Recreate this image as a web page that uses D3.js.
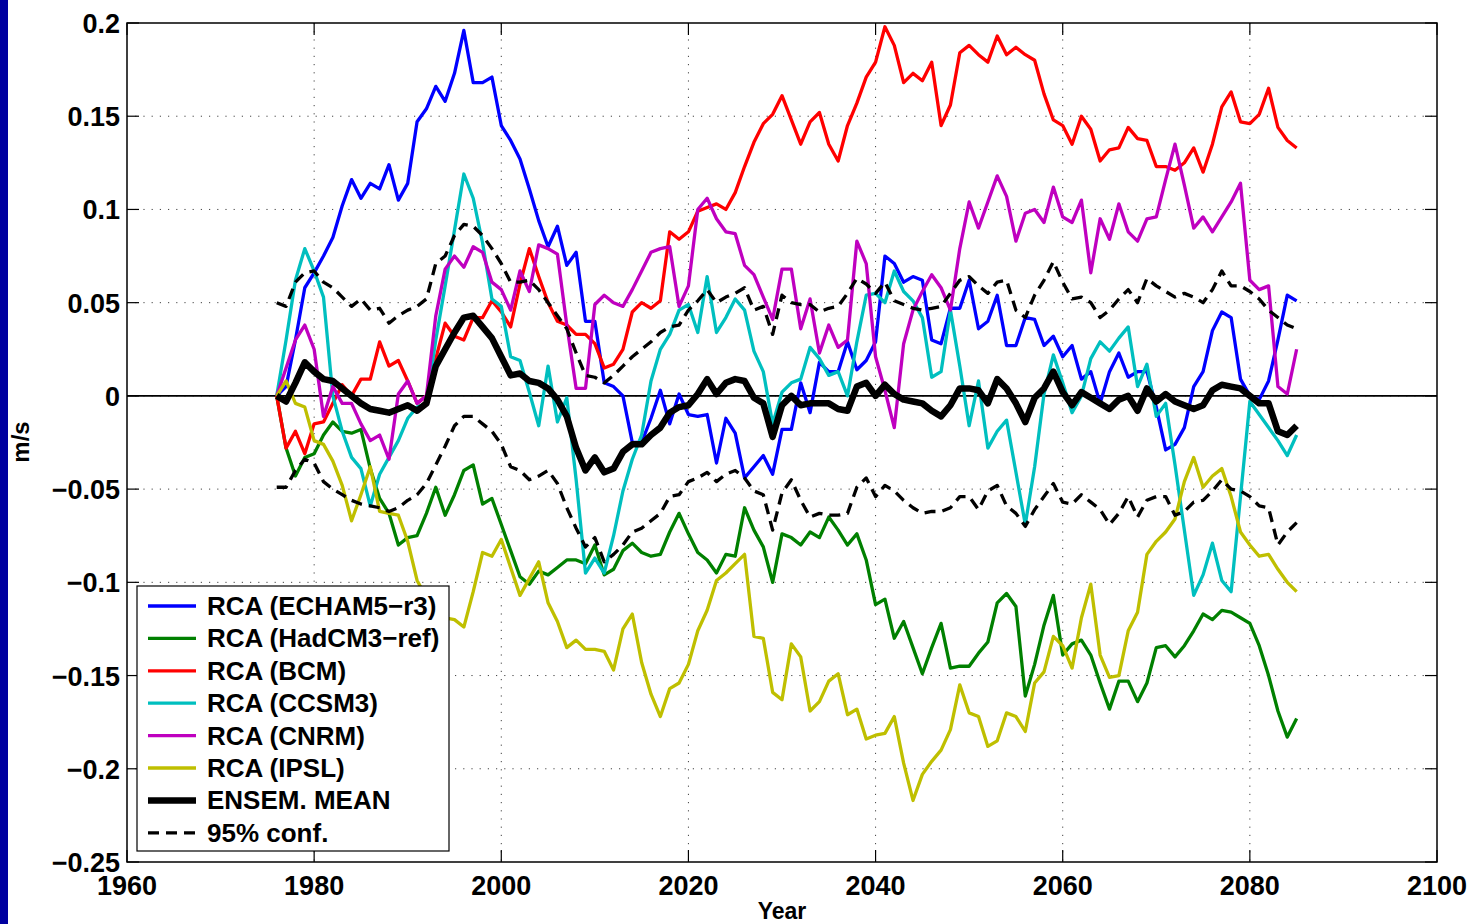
<!DOCTYPE html>
<html>
<head>
<meta charset="utf-8">
<script src="https://cdn.jsdelivr.net/npm/d3@7"></script>
<style>
  html, body { margin: 0; padding: 0; background: #ffffff; }
  svg { display: block; }
  text { font-family: "Liberation Sans", Arial, Helvetica, sans-serif; font-weight: bold; fill: #000; }
</style>
</head>
<body>
<svg id="chart" width="1474" height="924"></svg>
<script>
// Annual anomalies of wind speed (m/s), 1976-2085
const years = d3.range(1976, 2086);

const echam5 = [
  0, 0.005, 0.03, 0.058, 0.066, 0.075, 0.085, 0.102, 0.116, 0.106,
  0.114, 0.111, 0.124, 0.105, 0.114, 0.147, 0.154, 0.166, 0.158, 0.173,
  0.196, 0.168, 0.168, 0.171, 0.145, 0.137, 0.127, 0.111, 0.094, 0.080,
  0.091, 0.070, 0.077, 0.040, 0.040, 0.007, 0.005, 0.000, -0.025, -0.025,
  -0.012, 0.003, -0.015, 0.001, -0.010, -0.011, -0.010, -0.036, -0.012, -0.020,
  -0.044, -0.038, -0.032, -0.042, -0.018, -0.018, 0.007, -0.009, 0.018, 0.013,
  0.013, 0.029, 0.014, 0.019, 0.029, 0.075, 0.071, 0.061, 0.064, 0.062,
  0.030, 0.028, 0.047, 0.047, 0.062, 0.036, 0.040, 0.054, 0.027, 0.027,
  0.042, 0.041, 0.027, 0.032, 0.021, 0.027, 0.009, 0.013, -0.004, 0.013,
  0.023, 0.010, 0.013, 0.013, -0.006, -0.029, -0.026, -0.017, 0.005, 0.013,
  0.035, 0.045, 0.042, 0.009, 0.000, -0.002, 0.008, 0.030, 0.054, 0.051
];

const hadcm3 = [
  0, -0.028, -0.043, -0.033, -0.031, -0.021, -0.014, -0.019, -0.020, -0.018,
  -0.039, -0.055, -0.063, -0.080, -0.076, -0.075, -0.063, -0.049, -0.064, -0.053,
  -0.040, -0.037, -0.058, -0.055, -0.069, -0.083, -0.097, -0.101, -0.094, -0.096,
  -0.092, -0.088, -0.088, -0.090, -0.080, -0.096, -0.093, -0.083, -0.079, -0.084,
  -0.086, -0.085, -0.073, -0.063, -0.074, -0.084, -0.088, -0.095, -0.085, -0.086,
  -0.060, -0.072, -0.081, -0.100, -0.074, -0.076, -0.080, -0.073, -0.076, -0.065,
  -0.072, -0.080, -0.074, -0.088, -0.112, -0.109, -0.130, -0.121, -0.135, -0.149,
  -0.135, -0.122, -0.146, -0.145, -0.145, -0.138, -0.132, -0.111, -0.106, -0.113,
  -0.161, -0.144, -0.123, -0.107, -0.139, -0.133, -0.131, -0.139, -0.154, -0.168,
  -0.153, -0.153, -0.164, -0.154, -0.135, -0.134, -0.140, -0.134, -0.126, -0.117,
  -0.120, -0.115, -0.116, -0.119, -0.122, -0.134, -0.150, -0.169, -0.183, -0.173
];

const bcm = [
  0, -0.028, -0.019, -0.031, -0.015, -0.014, -0.004, 0.006, 0.000, 0.009,
  0.009, 0.029, 0.016, 0.019, 0.008, -0.004, 0.000, 0.020, 0.039, 0.032,
  0.030, 0.042, 0.042, 0.051, 0.045, 0.037, 0.060, 0.079, 0.064, 0.050,
  0.040, 0.038, 0.033, 0.033, 0.028, 0.015, 0.017, 0.025, 0.045, 0.050,
  0.047, 0.051, 0.088, 0.084, 0.088, 0.099, 0.101, 0.103, 0.100, 0.109,
  0.123, 0.136, 0.146, 0.151, 0.161, 0.148, 0.135, 0.147, 0.152, 0.135,
  0.126, 0.145, 0.157, 0.171, 0.179, 0.198, 0.188, 0.168, 0.173, 0.169,
  0.179, 0.145, 0.156, 0.184, 0.188, 0.183, 0.179, 0.193, 0.183, 0.187,
  0.183, 0.180, 0.162, 0.148, 0.145, 0.135, 0.150, 0.143, 0.126, 0.132,
  0.133, 0.144, 0.138, 0.137, 0.123, 0.123, 0.121, 0.125, 0.133, 0.120,
  0.135, 0.155, 0.163, 0.147, 0.146, 0.151, 0.165, 0.144, 0.137, 0.133
];

const ccsm3 = [
  0, 0.030, 0.062, 0.079, 0.067, 0.053, 0.000, -0.019, -0.033, -0.039,
  -0.059, -0.042, -0.033, -0.024, -0.012, -0.006, -0.004, 0.030, 0.059, 0.089,
  0.119, 0.106, 0.082, 0.052, 0.048, 0.021, 0.019, 0.002, -0.016, 0.016,
  -0.014, -0.001, -0.045, -0.095, -0.087, -0.095, -0.075, -0.051, -0.034, -0.021,
  0.008, 0.025, 0.033, 0.046, 0.049, 0.034, 0.064, 0.034, 0.042, 0.052,
  0.046, 0.024, 0.013, -0.015, 0.002, 0.007, 0.009, 0.026, 0.020, 0.011,
  0.013, 0.000, 0.029, 0.054, 0.055, 0.050, 0.067, 0.056, 0.051, 0.042,
  0.010, 0.013, 0.046, 0.016, -0.016, 0.008, -0.028, -0.019, -0.013, -0.041,
  -0.069, -0.038, 0.001, 0.022, 0.007, -0.009, 0.000, 0.020, 0.029, 0.024,
  0.031, 0.037, 0.005, 0.017, -0.011, -0.004, -0.037, -0.072, -0.107, -0.096,
  -0.079, -0.099, -0.105, -0.054, -0.003, -0.010, -0.017, -0.024, -0.032, -0.021
];

const cnrm = [
  0, 0.015, 0.030, 0.038, 0.025, -0.011, 0.005, -0.004, -0.004, -0.015,
  -0.024, -0.021, -0.034, 0.001, 0.008, -0.004, 0.000, 0.043, 0.068, 0.075,
  0.069, 0.080, 0.077, 0.061, 0.057, 0.046, 0.067, 0.056, 0.081, 0.079,
  0.076, 0.038, 0.004, 0.004, 0.049, 0.054, 0.050, 0.048, 0.057, 0.067,
  0.077, 0.079, 0.080, 0.048, 0.059, 0.100, 0.106, 0.095, 0.088, 0.087,
  0.070, 0.065, 0.053, 0.041, 0.068, 0.068, 0.036, 0.052, 0.023, 0.038,
  0.026, 0.030, 0.083, 0.071, 0.021, 0.003, -0.017, 0.028, 0.046, 0.056,
  0.065, 0.058, 0.046, 0.079, 0.104, 0.090, 0.104, 0.118, 0.107, 0.083,
  0.098, 0.100, 0.093, 0.112, 0.096, 0.093, 0.105, 0.066, 0.095, 0.084,
  0.103, 0.088, 0.083, 0.095, 0.096, 0.116, 0.135, 0.113, 0.090, 0.096,
  0.088, 0.096, 0.104, 0.114, 0.062, 0.057, 0.059, 0.005, 0.001, 0.025
];

const ipsl = [
  0, 0.008, -0.004, -0.006, -0.024, -0.026, -0.035, -0.048, -0.067, -0.053,
  -0.038, -0.062, -0.063, -0.064, -0.078, -0.099, -0.108, -0.115, -0.119, -0.120,
  -0.124, -0.105, -0.084, -0.086, -0.077, -0.092, -0.107, -0.098, -0.089, -0.111,
  -0.121, -0.135, -0.131, -0.136, -0.136, -0.137, -0.147, -0.125, -0.117, -0.143,
  -0.160, -0.172, -0.157, -0.154, -0.144, -0.126, -0.115, -0.099, -0.095, -0.090,
  -0.085, -0.129, -0.130, -0.159, -0.163, -0.133, -0.140, -0.169, -0.164, -0.153,
  -0.149, -0.171, -0.168, -0.184, -0.182, -0.181, -0.172, -0.197, -0.217, -0.203,
  -0.196, -0.190, -0.179, -0.155, -0.170, -0.172, -0.188, -0.185, -0.170, -0.172,
  -0.180, -0.154, -0.148, -0.129, -0.134, -0.146, -0.119, -0.101, -0.139, -0.151,
  -0.150, -0.126, -0.116, -0.085, -0.078, -0.073, -0.066, -0.046, -0.033, -0.049,
  -0.043, -0.039, -0.054, -0.073, -0.080, -0.086, -0.085, -0.093, -0.100, -0.105
];

const ensembleMean = [
  0, -0.003, 0.007, 0.018, 0.013, 0.009, 0.008, 0.004, 0.000, -0.004,
  -0.007, -0.008, -0.009, -0.007, -0.005, -0.008, -0.004, 0.016, 0.025, 0.034,
  0.042, 0.043, 0.037, 0.031, 0.021, 0.011, 0.012, 0.008, 0.007, 0.004,
  -0.002, -0.011, -0.028, -0.040, -0.033, -0.041, -0.039, -0.030, -0.026, -0.026,
  -0.021, -0.017, -0.009, -0.006, -0.005, 0.001, 0.009, 0.001, 0.007, 0.009,
  0.008, -0.001, -0.004, -0.022, -0.005, 0.000, -0.005, -0.004, -0.004, -0.004,
  -0.007, -0.008, 0.005, 0.007, 0.000, 0.006, 0.001, -0.002, -0.003, -0.004,
  -0.008, -0.011, -0.005, 0.004, 0.004, 0.003, -0.004, 0.009, 0.004, -0.004,
  -0.014, -0.001, 0.004, 0.013, 0.002, -0.005, 0.002, -0.001, -0.004, -0.007,
  -0.002, 0.000, -0.008, 0.004, -0.003, 0.001, -0.003, -0.005, -0.007, -0.005,
  0.003, 0.006, 0.005, 0.004, 0.000, -0.004, -0.004, -0.019, -0.021, -0.016
];

const confUpper = [
  0.050, 0.048, 0.061, 0.066, 0.067, 0.061, 0.058, 0.053, 0.048, 0.052,
  0.046, 0.047, 0.039, 0.043, 0.046, 0.048, 0.052, 0.071, 0.075, 0.086,
  0.092, 0.091, 0.086, 0.079, 0.071, 0.061, 0.061, 0.062, 0.057, 0.050,
  0.043, 0.036, 0.023, 0.011, 0.010, 0.007, 0.011, 0.016, 0.021, 0.025,
  0.029, 0.034, 0.037, 0.038, 0.046, 0.051, 0.057, 0.050, 0.053, 0.055,
  0.058, 0.046, 0.048, 0.033, 0.054, 0.050, 0.049, 0.049, 0.045, 0.047,
  0.048, 0.055, 0.063, 0.060, 0.055, 0.061, 0.051, 0.049, 0.047, 0.046,
  0.047, 0.048, 0.055, 0.062, 0.064, 0.059, 0.055, 0.061, 0.062, 0.046,
  0.042, 0.054, 0.062, 0.072, 0.061, 0.052, 0.053, 0.050, 0.042, 0.046,
  0.052, 0.057, 0.050, 0.063, 0.059, 0.056, 0.053, 0.055, 0.053, 0.050,
  0.057, 0.067, 0.059, 0.059, 0.056, 0.052, 0.046, 0.042, 0.038, 0.036
];

const confLower = [
  -0.049, -0.049, -0.040, -0.034, -0.036, -0.046, -0.050, -0.053, -0.056, -0.058,
  -0.059, -0.060, -0.062, -0.060, -0.056, -0.053, -0.047, -0.037, -0.027, -0.016,
  -0.011, -0.011, -0.015, -0.019, -0.026, -0.038, -0.040, -0.045, -0.043, -0.040,
  -0.047, -0.060, -0.071, -0.081, -0.076, -0.089, -0.085, -0.080, -0.073, -0.071,
  -0.067, -0.063, -0.054, -0.053, -0.046, -0.044, -0.041, -0.046, -0.042, -0.040,
  -0.044, -0.051, -0.053, -0.072, -0.052, -0.045, -0.056, -0.065, -0.063, -0.064,
  -0.064, -0.063, -0.049, -0.044, -0.054, -0.048, -0.051, -0.056, -0.060, -0.063,
  -0.062, -0.062, -0.060, -0.054, -0.054, -0.061, -0.051, -0.048, -0.059, -0.063,
  -0.070, -0.061, -0.054, -0.047, -0.057, -0.058, -0.053, -0.057, -0.061, -0.069,
  -0.063, -0.054, -0.065, -0.056, -0.054, -0.054, -0.064, -0.062, -0.057, -0.056,
  -0.051, -0.045, -0.050, -0.051, -0.054, -0.059, -0.060, -0.080, -0.073, -0.068
];

const xTicks = [1960, 1980, 2000, 2020, 2040, 2060, 2080, 2100];
const yTicks = [-0.25, -0.2, -0.15, -0.1, -0.05, 0, 0.05, 0.1, 0.15, 0.2];
const yTickLabels = ["\u22120.25", "\u22120.2", "\u22120.15", "\u22120.1", "\u22120.05", "0", "0.05", "0.1", "0.15", "0.2"];

const legendLabels = [
  "RCA (ECHAM5\u2212r3)", "RCA (HadCM3\u2212ref)", "RCA (BCM)", "RCA (CCSM3)",
  "RCA (CNRM)", "RCA (IPSL)", "ENSEM. MEAN", "95% conf."
];

// Series table built from the arrays above
const series = [
  { name: legendLabels[0], values: echam5, color: "#0000ff", width: 3.3, dash: null },
  { name: legendLabels[1], values: hadcm3, color: "#008000", width: 3.3, dash: null },
  { name: legendLabels[2], values: bcm,    color: "#ff0000", width: 3.3, dash: null },
  { name: legendLabels[3], values: ccsm3,  color: "#00bfbf", width: 3.3, dash: null },
  { name: legendLabels[4], values: cnrm,   color: "#bf00bf", width: 3.3, dash: null },
  { name: legendLabels[5], values: ipsl,   color: "#bfbf00", width: 3.3, dash: null },
  { name: legendLabels[6], values: ensembleMean, color: "#000000", width: 6.5, dash: null },
  { name: legendLabels[7], values: confUpper, color: "#000000", width: 3.3, dash: "11,7" },
  { name: null,            values: confLower, color: "#000000", width: 3.3, dash: "11,7" }
];

const svg = d3.select("#chart");
const W = 1474, H = 924;
const plot = { left: 127, right: 1437, top: 23, bottom: 862 };

svg.append("rect").attr("width", W).attr("height", H).attr("fill", "#ffffff");
// dark window edge on the left
svg.append("rect").attr("x", 0).attr("y", 0).attr("width", 8).attr("height", H).attr("fill", "#0000a0");

const x = d3.scaleLinear().domain([1960, 2100]).range([plot.left, plot.right]);
const y = d3.scaleLinear().domain([-0.25, 0.2]).range([plot.bottom, plot.top]);

// dotted grid
const grid = svg.append("g");
grid.selectAll("line.gx").data(xTicks.slice(1, -1)).join("line")
  .attr("x1", d => x(d)).attr("x2", d => x(d))
  .attr("y1", plot.top).attr("y2", plot.bottom)
  .attr("stroke", "#444").attr("stroke-width", 1).attr("stroke-dasharray", "1.2,7");
grid.selectAll("line.gy").data(yTicks.slice(1, -1)).join("line")
  .attr("x1", plot.left).attr("x2", plot.right)
  .attr("y1", d => y(d)).attr("y2", d => y(d))
  .attr("stroke", "#444").attr("stroke-width", 1).attr("stroke-dasharray", "1.2,7");

// zero reference line
svg.append("line")
  .attr("x1", plot.left).attr("x2", plot.right)
  .attr("y1", y(0)).attr("y2", y(0))
  .attr("stroke", "#000").attr("stroke-width", 1.6);

// data lines
const line = d3.line()
  .x((d, i) => x(years[i]))
  .y(d => y(d));

const lines = svg.append("g").attr("fill", "none");
series.forEach(s => {
  lines.append("path")
    .attr("d", line(s.values))
    .attr("stroke", s.color)
    .attr("stroke-width", s.width)
    .attr("stroke-linejoin", "round")
    .attr("stroke-dasharray", s.dash);
});

// axes frame with inward ticks on all sides
const tickLen = 12;
const axes = svg.append("g").attr("stroke", "#000");
axes.append("rect")
  .attr("x", plot.left).attr("y", plot.top)
  .attr("width", plot.right - plot.left).attr("height", plot.bottom - plot.top)
  .attr("fill", "none").attr("stroke-width", 1.5);
xTicks.forEach(t => {
  axes.append("line").attr("x1", x(t)).attr("x2", x(t)).attr("y1", plot.bottom).attr("y2", plot.bottom - tickLen).attr("stroke-width", 1.2);
  axes.append("line").attr("x1", x(t)).attr("x2", x(t)).attr("y1", plot.top).attr("y2", plot.top + tickLen).attr("stroke-width", 1.2);
});
yTicks.forEach(t => {
  axes.append("line").attr("x1", plot.left).attr("x2", plot.left + tickLen).attr("y1", y(t)).attr("y2", y(t)).attr("stroke-width", 1.2);
  axes.append("line").attr("x1", plot.right).attr("x2", plot.right - tickLen).attr("y1", y(t)).attr("y2", y(t)).attr("stroke-width", 1.2);
});

// tick labels
svg.append("g").selectAll("text").data(xTicks).join("text")
  .attr("x", d => x(d)).attr("y", plot.bottom + 33)
  .attr("text-anchor", "middle").attr("font-size", 27)
  .text(d => d);
svg.append("g").selectAll("text").data(yTicks).join("text")
  .attr("x", plot.left - 7).attr("y", d => y(d) + 10)
  .attr("text-anchor", "end").attr("font-size", 27)
  .text((d, i) => yTickLabels[i]);

// axis titles
svg.append("text").attr("x", (plot.left + plot.right) / 2).attr("y", 919)
  .attr("text-anchor", "middle").attr("font-size", 23).text("Year");
svg.append("text").attr("transform", "translate(29,442) rotate(-90)")
  .attr("text-anchor", "middle").attr("font-size", 24).text("m/s");

// legend
const lg = svg.append("g");
const lgBox = { x: 137, y: 586, w: 312, h: 265 };
lg.append("rect").attr("x", lgBox.x).attr("y", lgBox.y).attr("width", lgBox.w).attr("height", lgBox.h)
  .attr("fill", "#fff").attr("stroke", "#000").attr("stroke-width", 1.2);
const legendItems = series.filter(s => s.name);
legendItems.forEach((s, i) => {
  const cy = 606 + i * 32.4;
  lg.append("line").attr("x1", 148).attr("x2", 196).attr("y1", cy).attr("y2", cy)
    .attr("stroke", s.color).attr("stroke-width", s.width).attr("stroke-dasharray", s.dash);
  lg.append("text").attr("x", 207).attr("y", cy + 9).attr("font-size", 26).text(s.name);
});
</script>
</body>
</html>
